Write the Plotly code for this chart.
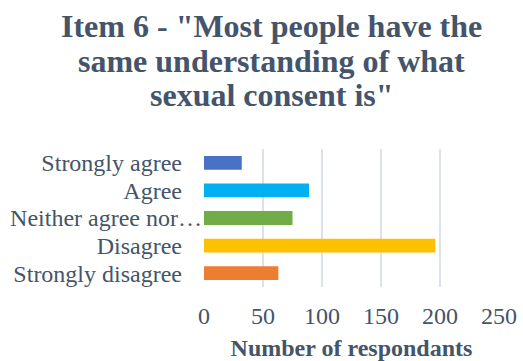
import plotly.graph_objects as go

# Survey responses for item 6, listed top to bottom as shown
categories = ["Strongly agree", "Agree", "Neither agree nor…", "Disagree", "Strongly disagree"]
counts = [32, 89, 75, 196, 63]
bar_colors = ["#4872C6", "#00B0F0", "#70AD47", "#FFC000", "#ED7D31"]
x_ticks = [0, 50, 100, 150, 200, 250]

title_lines = [
    'Item 6 - "Most people have the',
    'same understanding of what',
    'sexual consent is"',
]
x_title = "Number of respondants"

TEXT = "#44546A"
FONT = "Liberation Serif, Times New Roman, serif"

# The truncated label runs right up to the axis; the others keep a gap
GAP = "\u2002\u2004"
tick_text = [c if c.endswith("…") else c + GAP for c in categories]

fig = go.Figure(
    go.Bar(
        x=counts,
        y=categories,
        orientation="h",
        marker=dict(color=bar_colors, line=dict(width=0)),
        hoverinfo="x+y",
    )
)

# Title drawn line by line for tighter line spacing
title_y = [1.89, 1.638, 1.388]
for line, yy in zip(title_lines, title_y):
    fig.add_annotation(
        text=line,
        xref="paper", yref="paper",
        x=0.2305, y=yy,
        xanchor="center", yanchor="middle",
        showarrow=False,
        font=dict(family=FONT, size=32, color=TEXT, weight="bold"),
    )

fig.update_layout(
    width=523,
    height=361,
    margin=dict(l=204, r=24, t=149, b=74, autoexpand=False),
    paper_bgcolor="white",
    plot_bgcolor="white",
    bargap=0.5,
    showlegend=False,
    font=dict(family=FONT, color=TEXT),
)

fig.update_xaxes(
    range=[0, 250],
    tickmode="array",
    tickvals=x_ticks,
    showgrid=True,
    gridcolor="#DDE1E8",
    gridwidth=1.5,
    zeroline=False,
    showline=False,
    ticks="",
    ticklabelstandoff=12,
    tickfont=dict(family=FONT, size=24, color=TEXT),
    title=dict(
        text=x_title,
        font=dict(family=FONT, size=24, color=TEXT, weight="bold"),
        standoff=17,
    ),
    automargin=False,
    fixedrange=True,
)

fig.update_yaxes(
    autorange="reversed",
    tickmode="array",
    tickvals=categories,
    ticktext=tick_text,
    showgrid=False,
    zeroline=False,
    showline=False,
    ticks="",
    ticklabelstandoff=1,
    tickfont=dict(family=FONT, size=24, color=TEXT),
    automargin=False,
    fixedrange=True,
)

fig.write_html("out.html")
